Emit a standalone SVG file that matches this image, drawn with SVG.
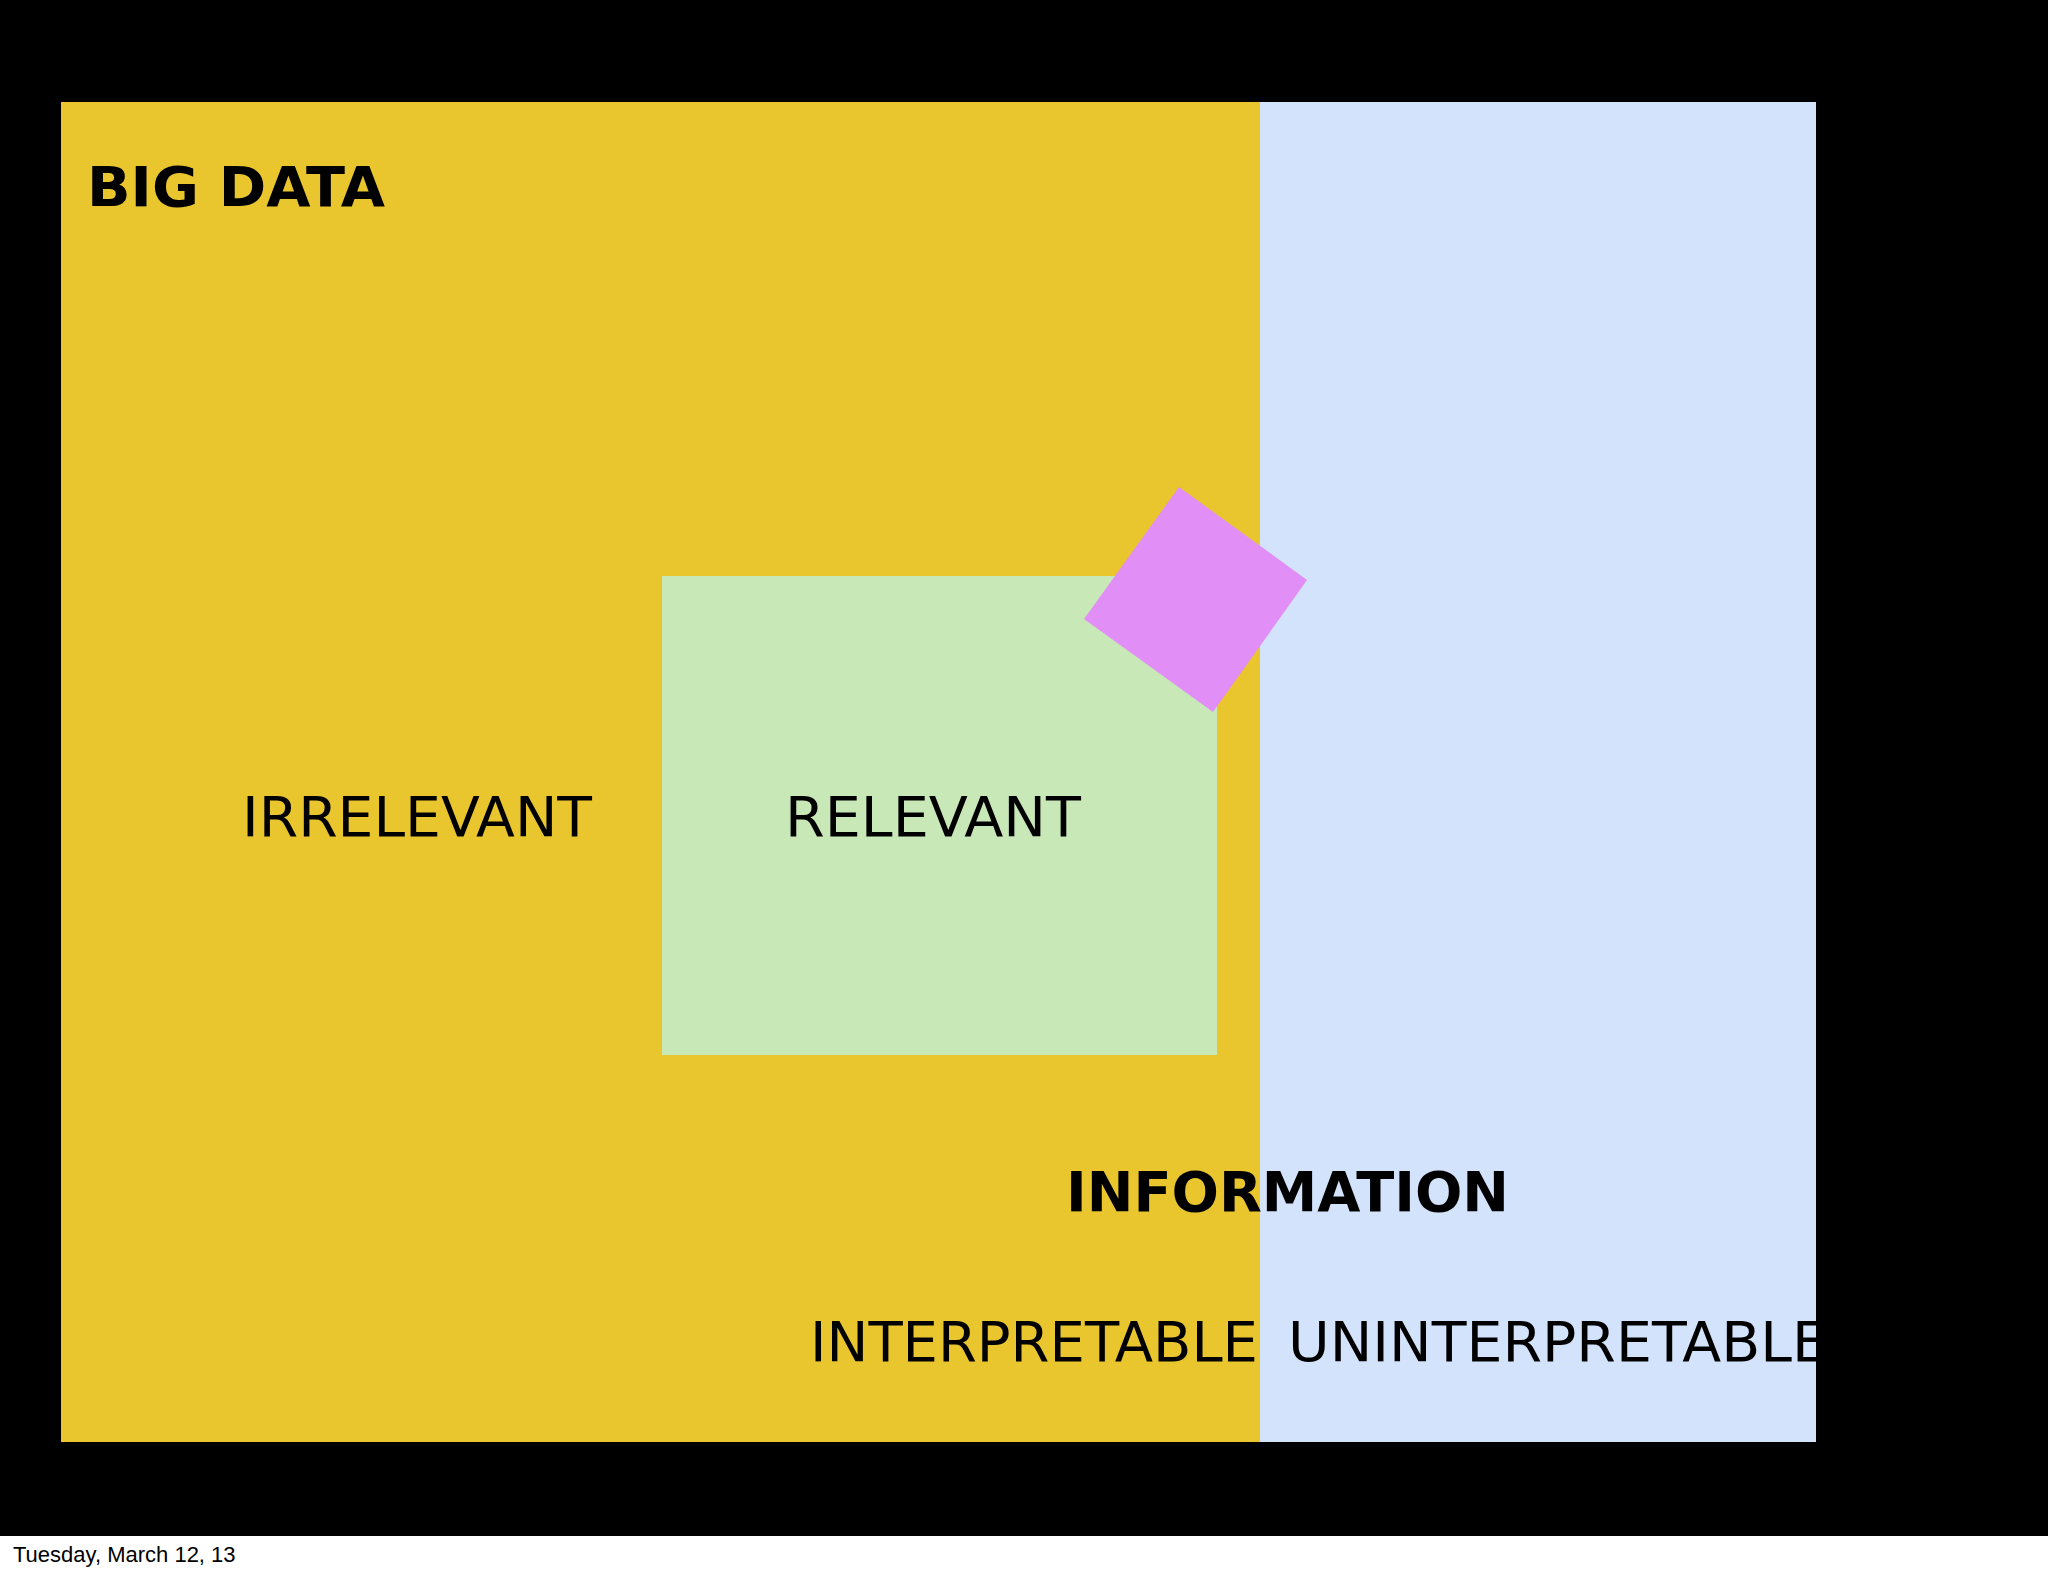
<svg xmlns="http://www.w3.org/2000/svg" width="2048" height="1576" viewBox="0 0 2048 1576">
<style>
.t{font-family:"DejaVu Sans","Liberation Sans",sans-serif;fill:#000;font-size:56px}
.b{font-weight:bold}
</style>
<defs><clipPath id="c"><rect x="61" y="102" width="1755" height="1340"/></clipPath></defs>
<rect width="2048" height="1576" fill="#fff"/>
<rect width="2048" height="1536" fill="#000"/>
<g id="bigdata"><rect x="61" y="102" width="1199" height="1340" fill="#E9C52E"/>
<text class="t b" x="87" y="206" textLength="298" lengthAdjust="spacingAndGlyphs">BIG DATA</text></g>
<g id="uninterp"><rect x="1260" y="102" width="556" height="1340" fill="#D4E3FC"/></g>
<g id="relevant"><rect x="662" y="576" width="555" height="479" fill="#C9E8B8"/>
<text class="t" x="785" y="836" textLength="296" lengthAdjust="spacingAndGlyphs">RELEVANT</text></g>
<g id="info"><polygon points="1179,487 1307,580 1213,712 1084,619" fill="#E18EF7"/></g>
<g id="labels">
<text class="t" x="242" y="836" textLength="350" lengthAdjust="spacingAndGlyphs">IRRELEVANT</text>
<text class="t b" x="1066" y="1211" textLength="443" lengthAdjust="spacingAndGlyphs">INFORMATION</text>
<text class="t" x="810" y="1361" textLength="448" lengthAdjust="spacingAndGlyphs">INTERPRETABLE</text>
<text class="t" x="1288" y="1361" clip-path="url(#c)" textLength="540" lengthAdjust="spacingAndGlyphs">UNINTERPRETABLE</text>
</g>
<g id="connectors"/>
<text x="13" y="1562" style="font-family:'Liberation Sans',Arial,sans-serif;font-size:22px">Tuesday, March 12, 13</text>
</svg>
